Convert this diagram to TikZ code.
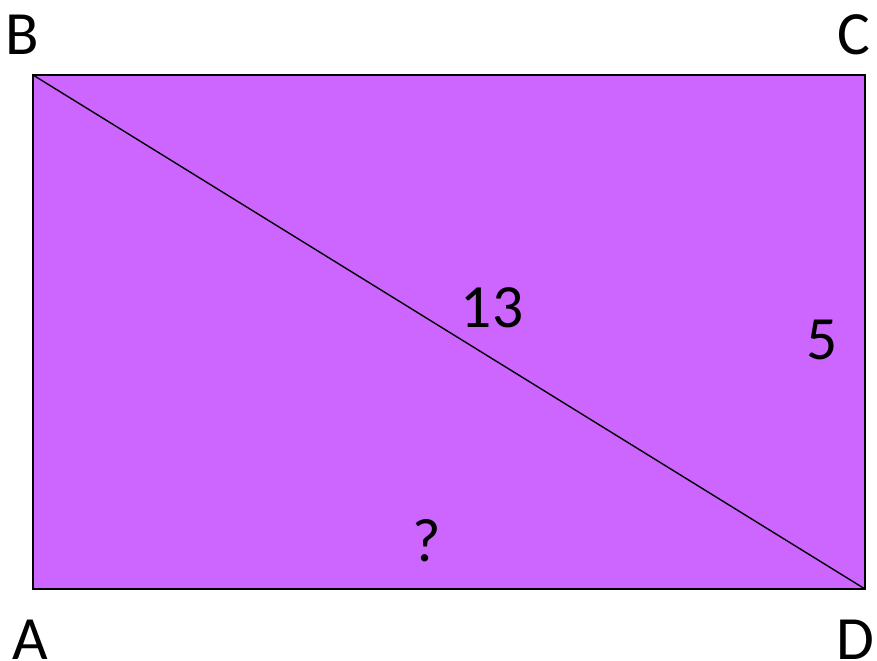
\documentclass[tikz,border=0pt]{standalone}
\usepackage{fontspec}
\setmainfont{Carlito}
\usepackage{xcolor}
\definecolor{viola}{HTML}{CC66FF}
\tikzset{
  etichetta/.style={font=\fontsize{35}{40}\selectfont, inner sep=0pt},
}

\begin{document}
\begin{tikzpicture}[x=0.02cm, y=-0.02cm]

            \useasboundingbox (0,0) rectangle (877,661);

            % Vertici
            \coordinate (A) at (33,589);
            \coordinate (B) at (33,75);
            \coordinate (C) at (865,75);
            \coordinate (D) at (865,589);

            % Rettangolo
            \filldraw[fill=viola, draw=black, line width=1.1pt] (A) -- (B) -- (C) -- (D) -- cycle;

            % Diagonale
            \draw[line width=0.8pt] (B) -- (D);

            % Etichette
            \node[etichetta] (labB) at (22,35) {B};
            \node[etichetta] (labC) at (854,35) {C};
            \node[etichetta] (labA) at (30,640) {A};
            \node[etichetta] (labD) at (855,640) {D};

            \node[etichetta] (lab13) at (492,308) {13};
            \node[etichetta] (lab5) at (822,340) {5};
            \node[etichetta] (labq) at (427,541) {?};

        \end{tikzpicture}
\end{document}
